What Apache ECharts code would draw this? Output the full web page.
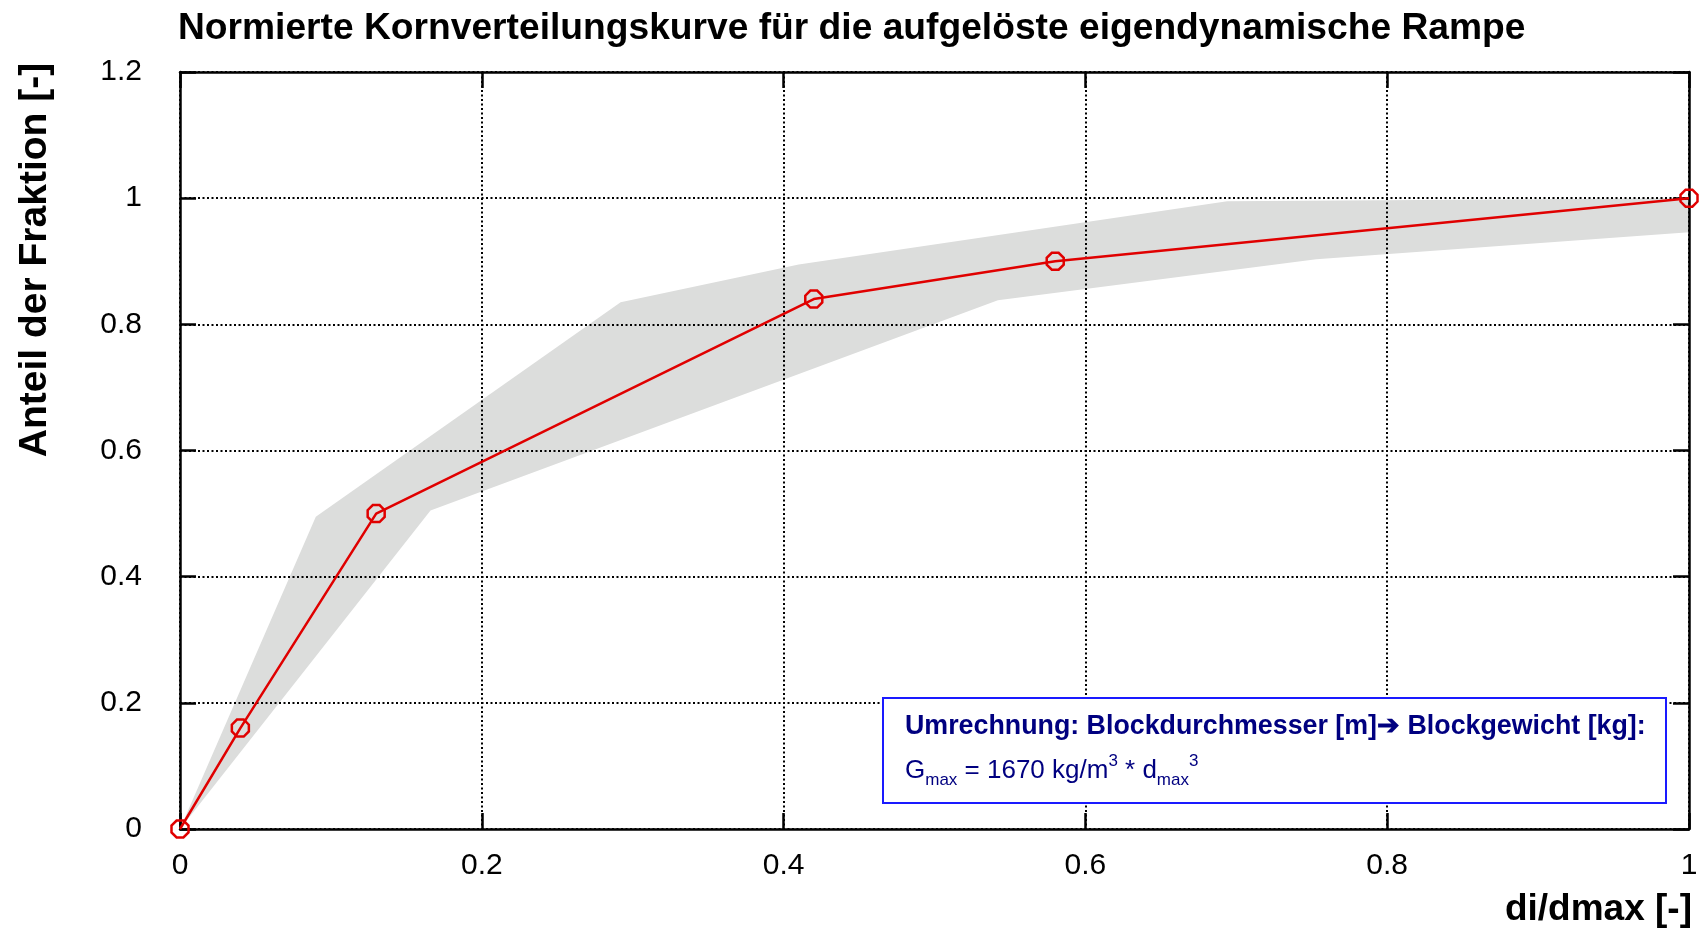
<!DOCTYPE html>
<html lang="de">
<head>
<meta charset="UTF-8">
<title>Normierte Kornverteilungskurve</title>
<script src="https://cdn.jsdelivr.net/npm/echarts@6/dist/echarts.min.js"></script>
<style>
  html, body { margin: 0; padding: 0; background: #fff; }
  #main { width: 1704px; height: 929px; }
</style>
</head>
<body>
<div id="main"></div>
<script>
// Messpunkte der normierten Kurve (di/dmax, Anteil)
var curveX = [0, 0.04, 0.13, 0.42, 0.58, 1];
var curveY = [0, 0.16, 0.5, 0.84, 0.9, 1];

// Streubereich (grau), obere und untere Grenze
var bandUpperX = [0, 0.09, 0.292, 0.41, 0.694, 1];
var bandUpperY = [0, 0.495, 0.835, 0.895, 0.995, 1];
var bandLowerX = [0, 0.166, 0.542, 0.753, 1];
var bandLowerY = [0, 0.505, 0.838, 0.903, 0.946];

var FONT = 'Liberation Sans, Arial, sans-serif';

var chart = echarts.init(document.getElementById('main'));

var curveData = curveX.map(function (x, i) { return [x, curveY[i]]; });

// Achsen: unten/links mit Beschriftung, oben/rechts nur als Rahmen
function frameAxis(extra) {
  var base = {
    type: 'value',
    axisLine: { show: true, onZero: false, lineStyle: { color: '#000', width: 2.5 } },
    axisTick: { show: true, inside: true, length: 16, lineStyle: { color: '#000', width: 2.5 } },
    axisLabel: { show: false },
    splitLine: { show: false }
  };
  return Object.assign(base, extra);
}

var gridDots = { color: '#000', width: 2, type: [2, 2.5] };

var option = {
  animation: false,
  backgroundColor: '#fff',
  title: {
    text: 'Normierte Kornverteilungskurve für die aufgelöste eigendynamische Rampe',
    left: 173,
    top: 5,
    textStyle: { fontFamily: FONT, fontSize: 37.2, fontWeight: 'bold', color: '#000' }
  },
  grid: { left: 180, right: 15, top: 72, bottom: 100, containLabel: false },
  xAxis: [
    frameAxis({
      position: 'bottom', min: 0, max: 1, interval: 0.2,
      axisLabel: { show: true, margin: 22, fontFamily: FONT, fontSize: 30, color: '#000' },
      splitLine: { show: true, lineStyle: gridDots }
    }),
    frameAxis({ position: 'top', min: 0, max: 1, interval: 0.2 })
  ],
  yAxis: [
    frameAxis({
      position: 'left', min: 0, max: 1.2, interval: 0.2,
      axisLabel: { show: true, margin: 38, fontFamily: FONT, fontSize: 30, color: '#000' },
      splitLine: { show: true, lineStyle: gridDots }
    }),
    frameAxis({ position: 'right', min: 0, max: 1.2, interval: 0.2 })
  ],
  series: [
    {
      // grauer Streubereich als Polygon
      type: 'custom',
      z: -1,
      silent: true,
      data: [[0, 0]],
      renderItem: function (params, api) {
        var pts = [];
        for (var i = 0; i < bandUpperX.length; i++) {
          pts.push(api.coord([bandUpperX[i], bandUpperY[i]]));
        }
        for (var j = bandLowerX.length - 1; j >= 0; j--) {
          pts.push(api.coord([bandLowerX[j], bandLowerY[j]]));
        }
        return {
          type: 'polygon',
          shape: { points: pts },
          style: { fill: '#dcdddc', stroke: null }
        };
      }
    },
    {
      type: 'line',
      data: curveData,
      clip: false,
      symbol: 'path://M3,0 L7,0 L10,3 L10,7 L7,10 L3,10 L0,7 L0,3 Z',
      symbolSize: 17,
      showAllSymbol: true,
      lineStyle: { color: '#e00000', width: 2.5 },
      itemStyle: { color: 'rgba(0,0,0,0)', borderColor: '#e00000', borderWidth: 2.5 },
      z: 3
    }
  ],
  graphic: [
    {
      type: 'text',
      x: 35, y: 260,
      rotation: Math.PI / 2,
      style: {
        text: 'Anteil der Fraktion [-]',
        font: 'bold 39px ' + FONT,
        fill: '#000',
        align: 'center',
        verticalAlign: 'middle'
      }
    },
    {
      type: 'text',
      x: 1692, y: 910,
      style: {
        text: 'di/dmax [-]',
        font: 'bold 37px ' + FONT,
        fill: '#000',
        align: 'right',
        verticalAlign: 'middle'
      }
    },
    {
      type: 'rect',
      shape: { x: 883, y: 698, width: 783, height: 105 },
      style: { fill: '#fff', stroke: '#1a1aff', lineWidth: 2 },
      z: 10
    },
    {
      type: 'text',
      x: 905, y: 727,
      z: 11,
      style: {
        text: 'Umrechnung: Blockdurchmesser [m]\u2794 Blockgewicht [kg]:',
        font: 'bold 26.8px ' + FONT,
        fill: '#000080',
        verticalAlign: 'middle'
      }
    },
    {
      type: 'text',
      x: 905, y: 771,
      z: 11,
      style: {
        text: '{n|G}{sub|max}{n| = 1670 kg/m}{sup|3}{n| * d}{sub|max}{sup|3}',
        fill: '#000080',
        verticalAlign: 'middle',
        rich: {
          n: { fontFamily: FONT, fontSize: 26, color: '#000080', lineHeight: 36, verticalAlign: 'middle' },
          sub: { fontFamily: FONT, fontSize: 17, color: '#000080', lineHeight: 18, verticalAlign: 'bottom' },
          sup: { fontFamily: FONT, fontSize: 17, color: '#000080', lineHeight: 18, verticalAlign: 'top' }
        }
      }
    }
  ]
};

chart.setOption(option);
</script>
</body>
</html>
